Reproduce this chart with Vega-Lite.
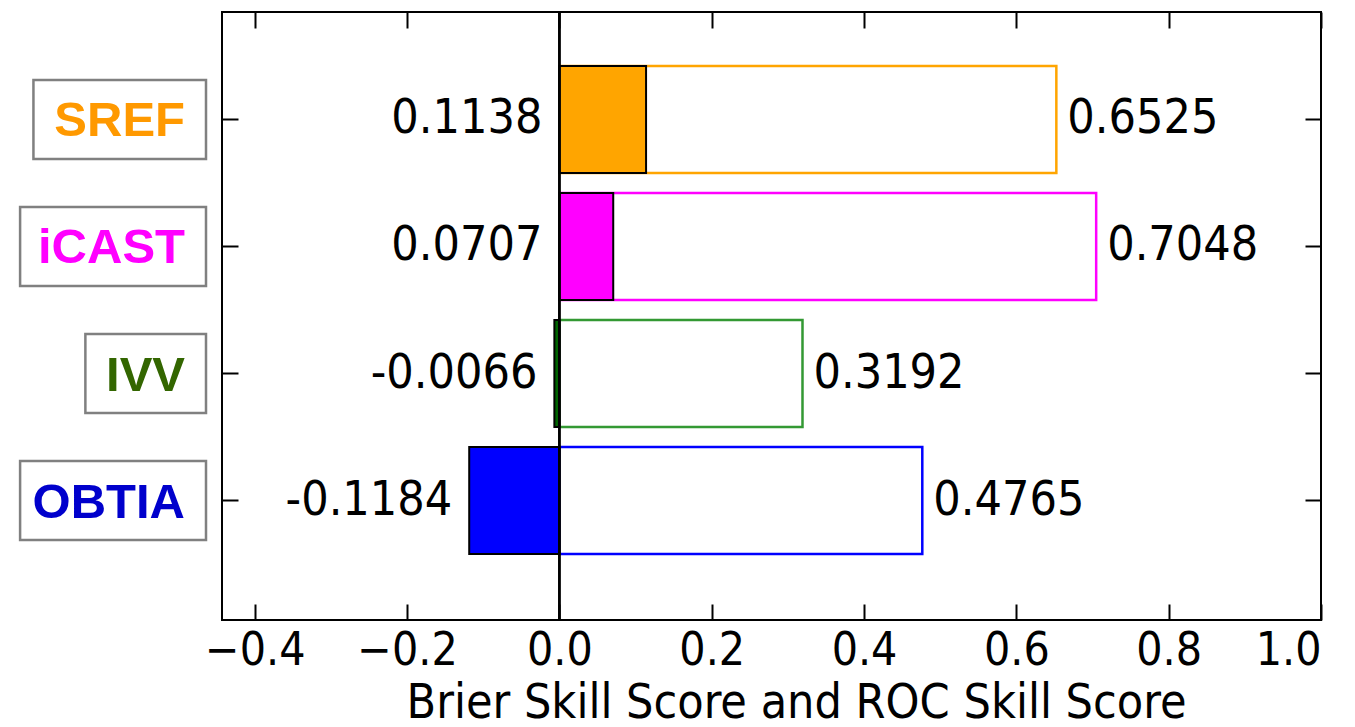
{
  "$schema": "https://vega.github.io/schema/vega-lite/v6.json",
  "width": 1099,
  "height": 608,
  "autosize": "none",
  "padding": {"left": 222, "top": 12, "right": 34, "bottom": 107},
  "background": "white",
  "data": {
    "values": [
      {"model": "SREF", "bss": 0.1138, "roc": 0.6525},
      {"model": "iCAST", "bss": 0.0707, "roc": 0.7048},
      {"model": "IVV", "bss": -0.0066, "roc": 0.3192},
      {"model": "OBTIA", "bss": -0.1184, "roc": 0.4765}
    ]
  },
  "config": {
    "view": {"stroke": "black", "strokeWidth": 2},
    "axis": {"grid": false, "domain": false, "tickColor": "black", "tickWidth": 2}
  },
  "layer": [
    {
      "transform": [
        {"calculate": "length(datum.model) - length(replace(datum.model, regexp('[iI]', 'g'), ''))", "as": "nNarrow"},
        {"calculate": "-58 - 48 * (0.68 * (length(datum.model) - datum.nNarrow) + 0.278 * datum.nNarrow)", "as": "boxLeft"}
      ],
      "layer": [
        {
          "mark": {"type": "bar", "fill": "white", "stroke": "#808080", "strokeWidth": 2.5, "height": 79},
          "encoding": {
            "y": {"field": "model", "type": "nominal", "sort": null, "axis": null},
            "x": {"field": "boxLeft", "type": "quantitative", "axis": null, "scale": {"domain": [-222, 0], "range": [-222, 0], "nice": false, "zero": false}},
            "x2": {"datum": -16}
          }
        },
        {
          "mark": {"type": "text", "align": "right", "baseline": "middle", "font": "Liberation Sans", "fontWeight": "bold", "fontSize": 49, "dy": 2},
          "encoding": {
            "y": {"field": "model", "type": "nominal", "sort": null, "axis": null},
            "x": {"datum": -37, "type": "quantitative", "axis": null},
            "text": {"field": "model", "type": "nominal"},
            "color": {"field": "model", "type": "nominal", "legend": null, "scale": {"domain": ["SREF", "iCAST", "IVV", "OBTIA"], "range": ["#FF9900", "#FF00FF", "#336600", "#0000CC"]}}
          }
        }
      ]
    },
    {
      "layer": [
        {
          "mark": {"type": "bar", "fill": "white", "strokeWidth": 2.5},
          "encoding": {
            "y": {"field": "model", "type": "nominal", "sort": null,
                  "scale": {"domain": ["SREF", "iCAST", "IVV", "OBTIA"], "paddingInner": 0.157, "paddingOuter": 0.472, "align": 0.45},
                  "axis": {"orient": "left", "labels": false, "tickSize": -16, "title": null}},
            "x": {"field": "roc", "type": "quantitative",
                  "scale": {"domain": [-0.443, 1.0], "nice": false, "zero": false},
                  "axis": {"orient": "bottom", "values": [-0.4, -0.2, 0, 0.2, 0.4, 0.6, 0.8, 1.0], "format": ".1f", "tickSize": -16,
                           "labelFont": "DejaVu Sans Condensed", "labelFontSize": 46, "labelColor": "black", "labelPadding": 24,
                           "title": "Brier Skill Score and ROC Skill Score", "titleFont": "DejaVu Sans Condensed", "titleFontSize": 48,
                           "titleFontWeight": "normal", "titleColor": "black", "titleX": 574, "titleY": 97, "titleBaseline": "alphabetic", "titleAlign": "center"}},
            "x2": {"datum": 0},
            "stroke": {"field": "model", "type": "nominal", "legend": null,
                       "scale": {"domain": ["SREF", "iCAST", "IVV", "OBTIA"], "range": ["#FFA500", "#FF00FF", "#339933", "#0000FF"]}}
          }
        },
        {
          "mark": {"type": "bar", "stroke": "black", "strokeWidth": 2},
          "encoding": {
            "y": {"field": "model", "type": "nominal", "sort": null, "axis": null},
            "x": {"field": "bss", "type": "quantitative", "axis": null},
            "x2": {"datum": 0},
            "fill": {"field": "model", "type": "nominal", "legend": null,
                     "scale": {"domain": ["SREF", "iCAST", "IVV", "OBTIA"], "range": ["#FFA500", "#FF00FF", "#006400", "#0000FF"]}}
          }
        },
        {
          "mark": {"type": "rule", "color": "black", "strokeWidth": 2},
          "encoding": {
            "x": {"datum": 0, "type": "quantitative", "axis": null}
          }
        },
        {
          "mark": {"type": "text", "align": "left", "baseline": "middle", "dx": 11, "font": "DejaVu Sans Condensed", "fontSize": 48, "color": "black"},
          "encoding": {
            "y": {"field": "model", "type": "nominal", "sort": null,
                  "axis": {"orient": "right", "labels": false, "tickSize": -16, "title": null}},
            "x": {"field": "roc", "type": "quantitative",
                  "axis": {"orient": "top", "labels": false, "values": [-0.4, -0.2, 0, 0.2, 0.4, 0.6, 0.8, 1.0], "tickSize": -16, "title": null}},
            "text": {"field": "roc", "type": "nominal"}
          }
        },
        {
          "transform": [{"calculate": "min(datum.bss, 0)", "as": "anchor"}],
          "mark": {"type": "text", "align": "right", "baseline": "middle", "dx": -17, "font": "DejaVu Sans Condensed", "fontSize": 48, "color": "black"},
          "encoding": {
            "y": {"field": "model", "type": "nominal", "sort": null, "axis": null},
            "x": {"field": "anchor", "type": "quantitative", "axis": null},
            "text": {"field": "bss", "type": "nominal"}
          }
        }
      ],
      "resolve": {"axis": {"x": "independent", "y": "independent"}}
    }
  ],
  "resolve": {"scale": {"x": "independent", "color": "independent"}}
}
